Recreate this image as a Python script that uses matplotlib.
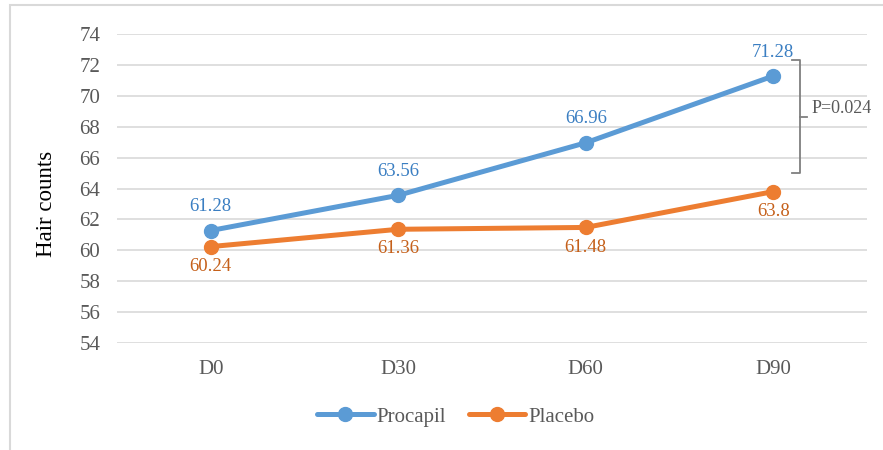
import matplotlib.pyplot as plt
from matplotlib.patches import Rectangle

plt.rcParams['font.family'] = ['Liberation Serif', 'DejaVu Serif']

days = ["D0", "D30", "D60", "D90"]
procapil = [61.28, 63.56, 66.96, 71.28]
placebo = [60.24, 61.36, 61.48, 63.8]
yticks = [54, 56, 58, 60, 62, 64, 66, 68, 70, 72, 74]
p_text = "P=0.024"

blue = "#5B9BD5"
orange = "#ED7D31"
grey = "#595959"

fig = plt.figure(figsize=(8.83, 4.5), dpi=100)
fig.patches.append(Rectangle((10 / 883, -0.1), 1.0, 1.1 - 5 / 450,
                             transform=fig.transFigure, fill=False,
                             edgecolor="#D9D9D9", linewidth=1.5))
ax = fig.add_axes([117 / 883, 1 - 343 / 450, 750 / 883, 309 / 450])

x = list(range(len(days)))
ax.plot(x, procapil, color=blue, lw=3.6, marker="o", ms=10, label="Procapil",
        solid_capstyle="round", zorder=3)
ax.plot(x, placebo, color=orange, lw=3.6, marker="o", ms=10, label="Placebo",
        solid_capstyle="round", zorder=3)

for xi, v in zip(x, procapil):
    ax.annotate(f"{v:g}", (xi, v), xytext=(0, 11), textcoords="offset points",
                ha="center", va="bottom", color="#3A7EC2", fontsize=13.5)
for xi, v in zip(x, placebo):
    ax.annotate(f"{v:g}", (xi, v), xytext=(0, -8), textcoords="offset points",
                ha="center", va="top", color="#C5601A", fontsize=13.5)

ax.set_xlim(-0.5, 3.5)
ax.set_ylim(54, 74)
ax.set_yticks(yticks)
ax.set_xticks(x)
ax.set_xticklabels(days)
ax.grid(axis="y", color="#D9D9D9", lw=1.2)
ax.set_axisbelow(True)
for s in ax.spines.values():
    s.set_visible(False)
ax.tick_params(length=0, labelsize=15, labelcolor=grey, pad=12)
ax.set_ylabel("Hair counts", fontsize=16.5, color="black")
ax.yaxis.set_label_coords(-0.08, 0.45)

# significance bracket
bx, top, bot = 3.14, 72.3, 65.0
ax.plot([bx - 0.04, bx, bx, bx - 0.04], [top, top, bot, bot], color="#7F7F7F",
        lw=1.3, clip_on=False)
mid = (top + bot) / 2
ax.plot([bx, bx + 0.04], [mid, mid], color="#7F7F7F", lw=1.3, clip_on=False)
ax.text(bx + 0.065, mid + 0.55, p_text, color=grey, fontsize=13, va="center",
        ha="left")

ax.legend(loc="center", bbox_to_anchor=(456 / 883, 1 - 417 / 450),
          bbox_transform=fig.transFigure, ncol=2, frameon=False, fontsize=15,
          handlelength=2.7, columnspacing=1.1, handletextpad=0.15,
          labelcolor=grey)

fig.savefig("out.png", dpi=100)
